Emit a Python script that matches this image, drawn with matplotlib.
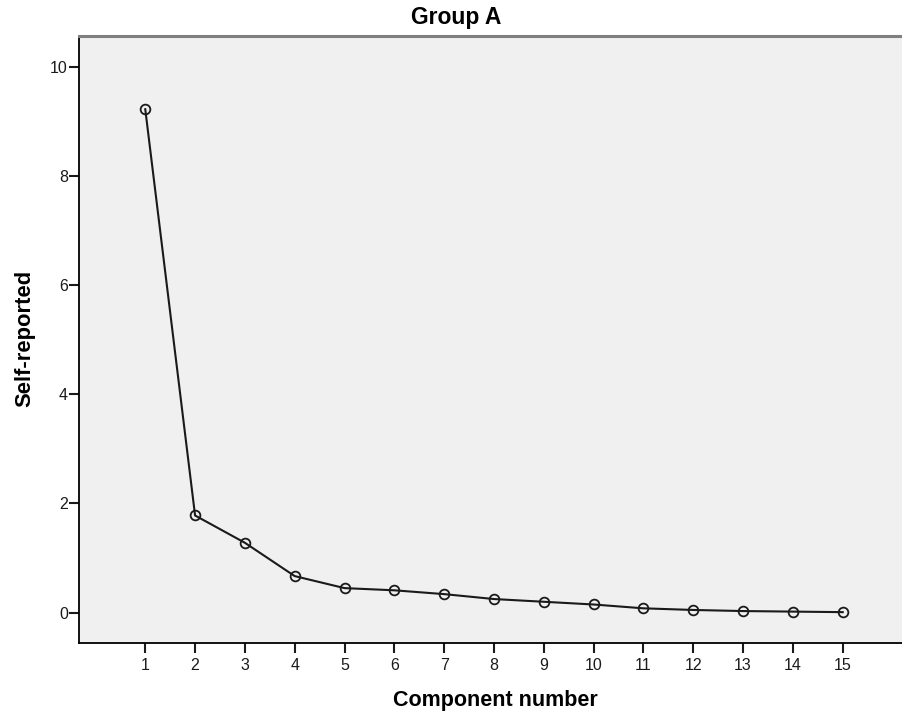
"""Scree plot for Group A, SPSS-style look."""

import matplotlib

matplotlib.use("Agg")
import matplotlib.pyplot as plt

components = list(range(1, 16))
self_reported = [9.22, 1.78, 1.28, 0.67, 0.45, 0.41, 0.34, 0.25, 0.20, 0.15,
                 0.08, 0.05, 0.03, 0.02, 0.01]
y_ticks = [0, 2, 4, 6, 8, 10]

plt.rcParams["font.family"] = ["Liberation Sans", "DejaVu Sans"]

fig = plt.figure(figsize=(9.02, 7.11), dpi=100)
ax = fig.add_axes([79 / 902, 1 - 643 / 711, 1 - 79 / 902, (643 - 36) / 711])
ax.set_facecolor("#f0f0f0")

ax.plot(components, self_reported, color="#1a1a1a", linewidth=1.5,
        marker="o", markersize=7, markerfacecolor="none",
        markeredgecolor="#1a1a1a", markeredgewidth=1.3)

ax.set_xlim(-0.33, 16.19)
ax.set_ylim(-0.555, 10.56)
ax.set_xticks(components)
ax.set_yticks(y_ticks)

ax.spines["right"].set_visible(False)
ax.spines["top"].set_color("#808080")
ax.spines["top"].set_linewidth(2.2)
ax.spines["left"].set_linewidth(1.3)
ax.spines["bottom"].set_linewidth(1.3)
ax.tick_params(axis="both", direction="out", length=7, width=1.5,
               labelsize=11.5, colors="#1a1a1a")
ax.tick_params(axis="y", pad=1)
ax.tick_params(axis="x", pad=3.5)

fig.text(456 / 902, 1 - 24 / 711, "Group A", ha="center", va="baseline",
         fontsize=16.5, fontweight="bold")
fig.text(495 / 902, 1 - 706 / 711, "Component number", ha="center",
         va="baseline", fontsize=15.5, fontweight="bold")
fig.text(25 / 902, 1 - 338 / 711, "Self-reported", ha="center", va="center",
         rotation=90, fontsize=15.8, fontweight="bold")

fig.savefig("out.png", dpi=100)
